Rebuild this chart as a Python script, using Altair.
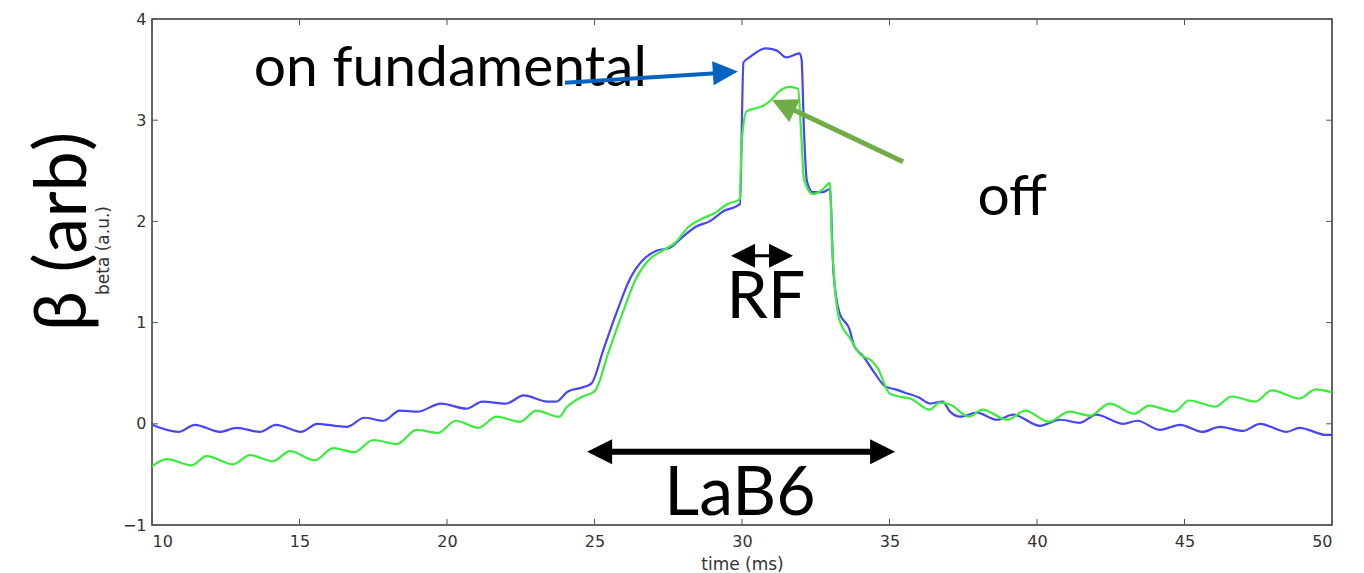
import altair as alt
import pandas as pd

# ---- data ----
t_on = [10.0, 10.9, 11.45, 12.3, 12.87, 13.66, 14.2, 15.05, 15.6, 16.2, 16.6, 17.2, 17.84, 18.4, 19.0,
        19.8, 20.66, 21.2, 22.0, 22.6, 23.4, 23.7, 24.1, 24.6, 24.9, 25.3, 25.75, 26.2, 26.65, 27.1,
        27.56, 28.0, 28.45, 28.9, 29.37, 29.93, 30.05, 30.25, 30.8, 31.17, 31.5, 31.95, 32.02, 32.1,
        32.2, 32.4, 32.75, 32.98, 33.1, 33.3, 33.65, 33.8, 34.1, 34.5, 34.85, 35.2, 35.5, 36.0, 36.37,
        36.8, 37.05, 37.4, 37.96, 38.64, 39.2, 40.1, 40.78, 41.46, 42.0, 42.93, 43.4, 44.17, 44.85,
        45.6, 46.2, 46.98, 47.56, 48.46, 48.9, 49.8, 50.0]
v_on = [-0.01, -0.08, -0.01, -0.08, -0.04, -0.08, -0.01, -0.08, 0.0, -0.02, -0.03, 0.06, 0.03, 0.13, 0.12,
        0.20, 0.15, 0.22, 0.20, 0.28, 0.22, 0.22, 0.32, 0.36, 0.40, 0.73, 1.10, 1.43, 1.62, 1.71,
        1.74, 1.85, 1.95, 2.00, 2.10, 2.17, 3.57, 3.62, 3.71, 3.69, 3.62, 3.66, 3.60, 2.90,
        2.40, 2.29, 2.29, 2.32, 1.50, 1.10, 0.93, 0.77, 0.67, 0.50, 0.37, 0.34, 0.31, 0.26, 0.20,
        0.22, 0.12, 0.07, 0.11, 0.04, 0.09, -0.02, 0.04, 0.01, 0.09, 0.0, 0.03, -0.06, -0.01,
        -0.08, -0.03, -0.07, 0.0, -0.08, -0.04, -0.11, -0.11]

t_off = [10.0, 10.5, 11.34, 11.85, 12.75, 13.32, 14.1, 14.68, 15.52, 16.14, 16.86, 17.5, 18.3, 18.97,
         19.7, 20.3, 21.06, 21.68, 22.47, 23.03, 23.8, 24.05, 24.6, 25.0, 25.5, 25.96, 26.4, 26.85,
         27.3, 27.74, 28.2, 28.6, 29.06, 29.5, 29.93, 29.98, 30.16, 30.5, 30.7, 30.95, 31.28, 31.6,
         31.9, 32.0, 32.1, 32.4, 32.75, 32.98, 33.05, 33.3, 33.65, 34.0, 34.4, 34.6, 35.0, 35.3, 35.7,
         36.37, 36.7, 37.05, 37.7, 38.15, 39.0, 39.6, 40.4, 41.1, 41.8, 42.46, 43.3, 43.8, 44.66,
         45.15, 46.05, 46.6, 47.4, 47.96, 48.9, 49.45, 50.0]
v_off = [-0.42, -0.35, -0.41, -0.32, -0.40, -0.31, -0.37, -0.27, -0.36, -0.24, -0.28, -0.16, -0.20, -0.06,
         -0.09, 0.03, -0.04, 0.07, 0.02, 0.13, 0.07, 0.16, 0.27, 0.32, 0.73, 1.10, 1.43, 1.62,
         1.71, 1.79, 1.95, 2.02, 2.08, 2.17, 2.22, 2.75, 3.09, 3.12, 3.14, 3.19, 3.29, 3.33,
         3.31, 2.90, 2.42, 2.27, 2.32, 2.38, 1.80, 1.03, 0.85, 0.69, 0.62, 0.55, 0.30, 0.27, 0.25,
         0.14, 0.21, 0.19, 0.07, 0.14, 0.04, 0.13, 0.02, 0.12, 0.08, 0.20, 0.10, 0.18, 0.12,
         0.23, 0.17, 0.27, 0.22, 0.33, 0.25, 0.34, 0.31]

x_ticks = [10, 15, 20, 25, 30, 35, 40, 45, 50]
y_ticks = [-1, 0, 1, 2, 3, 4]

df_on = pd.DataFrame({"t": t_on, "v": v_on, "i": range(len(t_on))})
df_off = pd.DataFrame({"t": t_off, "v": v_off, "i": range(len(t_off))})

xs = alt.Scale(domain=[10, 50], nice=False, zero=False)
ys = alt.Scale(domain=[-1, 4], nice=False, zero=False)

X = alt.X("t:Q", scale=xs, axis=alt.Axis(values=x_ticks, title="time (ms)", ticks=False, domain=False,
                                          grid=False, labelPadding=8, titleY=44, format="d",
                                          titleBaseline="alphabetic"))
Y = alt.Y("v:Q", scale=ys, axis=alt.Axis(values=y_ticks, title="beta (a.u.)", ticks=False, domain=False,
                                          grid=False, labelPadding=6, titleX=-49, titleY=231, format="d",
                                          titleBaseline="middle", titleAlign="center"))

blue = alt.Chart(df_on).mark_line(color="#4646f4", strokeWidth=2.2, interpolate="monotone").encode(
    x=X, y=Y, order="i:Q")
green = alt.Chart(df_off).mark_line(color="#3cec3c", strokeWidth=2.2, interpolate="monotone").encode(
    x="t:Q", y="v:Q", order="i:Q")

# inward ticks on all four sides
tick_x = pd.DataFrame({"t": x_ticks})
tick_y = pd.DataFrame({"v": y_ticks})
tb = alt.Chart(tick_x).mark_rule(color="#555", strokeWidth=1).encode(
    x="t:Q", y=alt.datum(-1), y2=alt.datum(-0.94))
tt = alt.Chart(tick_x).mark_rule(color="#555", strokeWidth=1).encode(
    x="t:Q", y=alt.datum(4), y2=alt.datum(3.94))
tl = alt.Chart(tick_y).mark_rule(color="#555", strokeWidth=1).encode(
    y="v:Q", x=alt.datum(10), x2=alt.datum(10.2))
tr = alt.Chart(tick_y).mark_rule(color="#555", strokeWidth=1).encode(
    y="v:Q", x=alt.datum(50), x2=alt.datum(49.8))

# ---- annotations ----
def seg(t1, v1, t2, v2, color, w):
    d = pd.DataFrame({"t": [t1], "v": [v1], "t2": [t2], "v2": [v2]})
    return alt.Chart(d).mark_rule(color=color, strokeWidth=w, strokeCap="butt").encode(
        x="t:Q", y="v:Q", x2="t2:Q", y2="v2:Q")

def head(t, v, angle, color, size, path="M0,0 L-1,-0.5 L-1,0.5 Z"):
    d = pd.DataFrame({"t": [t], "v": [v]})
    return alt.Chart(d).mark_point(shape=path, filled=True, color=color, opacity=1, size=size,
                                   angle=angle, strokeWidth=0).encode(x="t:Q", y="v:Q")

def label(t, v, text, size, align="left", baseline="alphabetic", angle=0):
    d = pd.DataFrame({"t": [t], "v": [v], "s": [text]})
    return alt.Chart(d).mark_text(font="Lato, Open Sans", fontSize=size, color="#000", align=align,
                                  baseline=baseline, angle=angle).encode(x="t:Q", y="v:Q", text="s:N")

txt_on = label(13.45, 3.34, "on fundamental", 57)
txt_off = label(37.98, 2.065, "off", 57)
txt_rf = label(30.81, 1.047, "RF", 66, align="center")
txt_lab = label(29.93, -0.90, "LaB6", 68, align="center")
txt_beta = label(7.02, 1.90, "β (arb)", 72, align="center", baseline="middle", angle=270)

arr_blue = seg(24.0, 3.37, 29.39, 3.47, "#0563C1", 4) + head(29.86, 3.48, 356.4, "#0563C1", 2500,
                                                            "M0,0 L-1,-0.48 L-1,0.48 Z")
arr_green = seg(35.46, 2.589, 31.45, 3.142, "#70AD47", 5) + head(31.02, 3.20, 205.3, "#70AD47", 2500)
arr_rf = (seg(30.0, 1.66, 31.35, 1.66, "#000", 3) + head(29.63, 1.66, 180, "#000", 2300)
          + head(31.73, 1.66, 0, "#000", 2300))
arr_lab = (seg(25.4, -0.277, 34.5, -0.277, "#000", 6) + head(24.75, -0.277, 180, "#000", 2500)
           + head(35.19, -0.277, 0, "#000", 2500))

chart = alt.layer(
    blue, green, tb, tt, tl, tr,
    txt_on, arr_blue, arr_green, txt_off, arr_rf, txt_rf, arr_lab, txt_lab, txt_beta,
).properties(
    width=1180, height=506,
    autosize=alt.AutoSizeParams(type="none"),
    padding={"left": 152, "top": 19, "right": 32, "bottom": 48},
    background="white",
).configure_view(
    stroke="#333", strokeWidth=1.5
).configure_axis(
    labelFont="DejaVu Sans", labelFontSize=16, labelColor="#333",
    titleFont="DejaVu Sans", titleFontSize=17, titleFontWeight="normal", titleColor="#333",
)

chart.save("out.html", embed_options={"renderer": "svg", "actions": False})
